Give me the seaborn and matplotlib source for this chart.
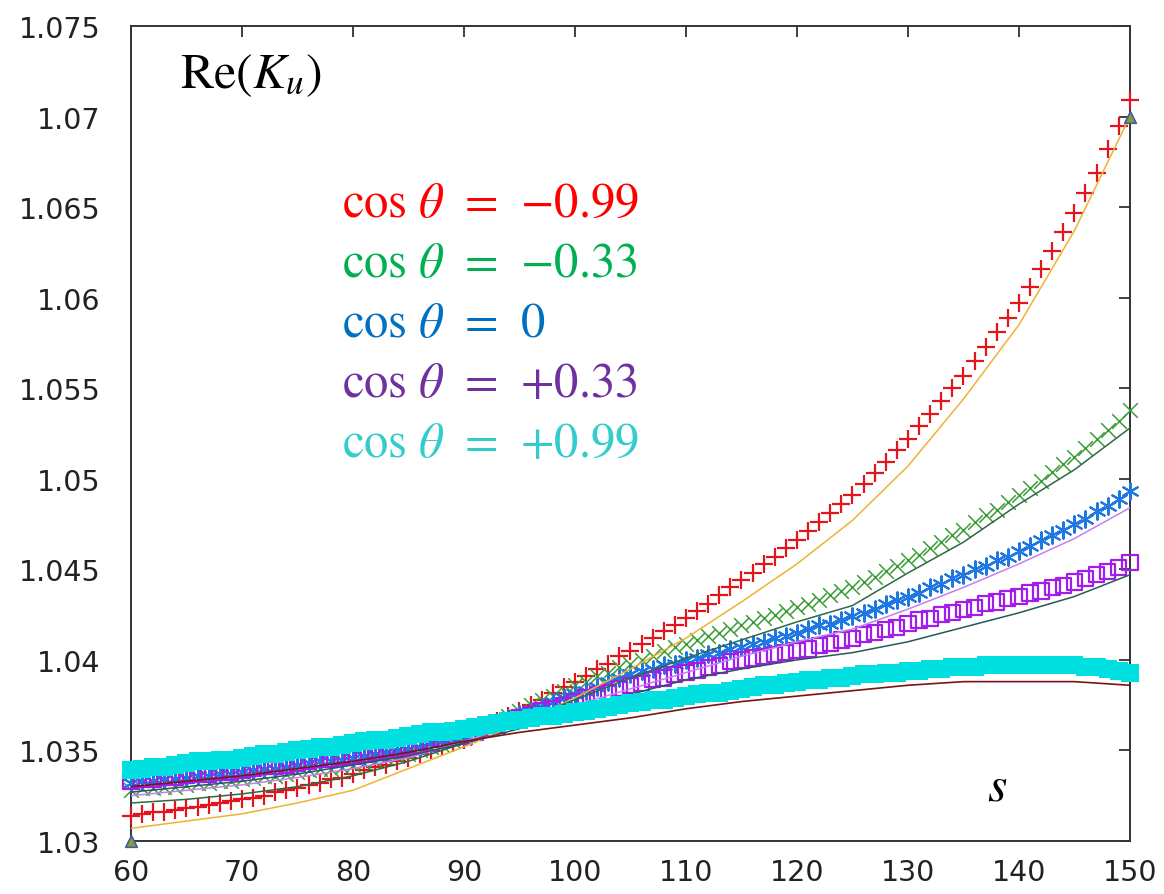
import matplotlib
matplotlib.use("Agg")
import matplotlib.pyplot as plt
import seaborn as sns

# ---------------- data ----------------
S = list(range(60, 151))          # s values of the marker series (step 1)
S_LINE = list(range(60, 151, 5))  # s values of the thin curves

RED_PLUS = [1.0314, 1.0315, 1.0316, 1.0316, 1.0317,
            1.0318, 1.0319, 1.0320, 1.0321, 1.0322,
            1.0323, 1.0324, 1.0325, 1.0327, 1.0328,
            1.0329, 1.0331, 1.0332, 1.0334, 1.0335,
            1.0337, 1.0339, 1.0341, 1.0342, 1.0344,
            1.0346, 1.0348, 1.0350, 1.0352, 1.0354,
            1.0356, 1.0359, 1.0362, 1.0366, 1.0369,
            1.0372, 1.0375, 1.0378, 1.0382, 1.0385,
            1.0388, 1.0391, 1.0395, 1.0398, 1.0402,
            1.0405, 1.0409, 1.0412, 1.0416, 1.0419,
            1.0423, 1.0427, 1.0431, 1.0436, 1.0440,
            1.0444, 1.0448, 1.0453, 1.0457, 1.0462,
            1.0466, 1.0471, 1.0476, 1.0481, 1.0486,
            1.0491, 1.0497, 1.0503, 1.0509, 1.0516,
            1.0522, 1.0529, 1.0536, 1.0543, 1.0550,
            1.0557, 1.0565, 1.0573, 1.0581, 1.0589,
            1.0597, 1.0606, 1.0616, 1.0626, 1.0636,
            1.0647, 1.0658, 1.0669, 1.0682, 1.0695,
            1.0709]

GREEN_X = [1.0328, 1.0329, 1.0329, 1.0330, 1.0330,
           1.0331, 1.0332, 1.0332, 1.0333, 1.0333,
           1.0334, 1.0335, 1.0336, 1.0336, 1.0337,
           1.0338, 1.0339, 1.0340, 1.0340, 1.0341,
           1.0342, 1.0343, 1.0344, 1.0346, 1.0347,
           1.0348, 1.0350, 1.0352, 1.0353, 1.0355,
           1.0357, 1.0360, 1.0363, 1.0366, 1.0369,
           1.0372, 1.0375, 1.0378, 1.0380, 1.0383,
           1.0386, 1.0388, 1.0391, 1.0393, 1.0396,
           1.0398, 1.0400, 1.0402, 1.0405, 1.0407,
           1.0409, 1.0411, 1.0413, 1.0415, 1.0417,
           1.0419, 1.0421, 1.0423, 1.0425, 1.0427,
           1.0429, 1.0431, 1.0433, 1.0436, 1.0438,
           1.0440, 1.0443, 1.0446, 1.0449, 1.0452,
           1.0455, 1.0458, 1.0462, 1.0465, 1.0469,
           1.0472, 1.0476, 1.0480, 1.0483, 1.0487,
           1.0491, 1.0495, 1.0499, 1.0504, 1.0508,
           1.0512, 1.0517, 1.0522, 1.0527, 1.0532,
           1.0538]

BLUE_STAR = [1.0332, 1.0333, 1.0333, 1.0334, 1.0334,
             1.0335, 1.0336, 1.0336, 1.0337, 1.0337,
             1.0338, 1.0339, 1.0340, 1.0340, 1.0341,
             1.0342, 1.0343, 1.0344, 1.0344, 1.0345,
             1.0346, 1.0347, 1.0348, 1.0349, 1.0350,
             1.0351, 1.0352, 1.0354, 1.0355, 1.0357,
             1.0358, 1.0360, 1.0363, 1.0365, 1.0368,
             1.0370, 1.0372, 1.0374, 1.0377, 1.0379,
             1.0381, 1.0383, 1.0385, 1.0388, 1.0390,
             1.0392, 1.0394, 1.0395, 1.0397, 1.0398,
             1.0400, 1.0401, 1.0403, 1.0404, 1.0406,
             1.0407, 1.0409, 1.0410, 1.0412, 1.0413,
             1.0415, 1.0417, 1.0419, 1.0420, 1.0422,
             1.0424, 1.0426, 1.0428, 1.0431, 1.0433,
             1.0435, 1.0437, 1.0440, 1.0442, 1.0445,
             1.0447, 1.0450, 1.0452, 1.0455, 1.0457,
             1.0460, 1.0463, 1.0466, 1.0469, 1.0472,
             1.0475, 1.0478, 1.0482, 1.0485, 1.0489,
             1.0493]

PURPLE_SQ = [1.0333, 1.0334, 1.0334, 1.0335, 1.0335,
             1.0336, 1.0337, 1.0337, 1.0338, 1.0338,
             1.0339, 1.0340, 1.0341, 1.0341, 1.0342,
             1.0343, 1.0344, 1.0345, 1.0345, 1.0346,
             1.0347, 1.0348, 1.0349, 1.0350, 1.0351,
             1.0352, 1.0353, 1.0354, 1.0356, 1.0357,
             1.0358, 1.0360, 1.0362, 1.0364, 1.0366,
             1.0368, 1.0370, 1.0372, 1.0373, 1.0375,
             1.0377, 1.0379, 1.0381, 1.0382, 1.0384,
             1.0386, 1.0387, 1.0389, 1.0390, 1.0392,
             1.0393, 1.0394, 1.0396, 1.0397, 1.0399,
             1.0400, 1.0401, 1.0402, 1.0403, 1.0404,
             1.0405, 1.0406, 1.0408, 1.0409, 1.0411,
             1.0412, 1.0414, 1.0415, 1.0417, 1.0418,
             1.0420, 1.0422, 1.0423, 1.0425, 1.0426,
             1.0428, 1.0429, 1.0431, 1.0432, 1.0434,
             1.0435, 1.0437, 1.0438, 1.0440, 1.0441,
             1.0443, 1.0445, 1.0447, 1.0449, 1.0451,
             1.0454]

CYAN_SQ = [1.0339, 1.0340, 1.0341, 1.0341, 1.0342,
           1.0343, 1.0344, 1.0344, 1.0345, 1.0345,
           1.0346, 1.0347, 1.0348, 1.0348, 1.0349,
           1.0350, 1.0351, 1.0352, 1.0352, 1.0353,
           1.0354, 1.0355, 1.0356, 1.0356, 1.0357,
           1.0358, 1.0359, 1.0360, 1.0360, 1.0361,
           1.0362, 1.0363, 1.0364, 1.0365, 1.0366,
           1.0367, 1.0368, 1.0369, 1.0369, 1.0370,
           1.0371, 1.0372, 1.0373, 1.0374, 1.0375,
           1.0376, 1.0377, 1.0378, 1.0378, 1.0379,
           1.0380, 1.0381, 1.0382, 1.0382, 1.0383,
           1.0384, 1.0385, 1.0386, 1.0386, 1.0387,
           1.0388, 1.0389, 1.0389, 1.0390, 1.0390,
           1.0391, 1.0392, 1.0392, 1.0393, 1.0393,
           1.0394, 1.0394, 1.0395, 1.0395, 1.0396,
           1.0396, 1.0396, 1.0397, 1.0397, 1.0397,
           1.0397, 1.0397, 1.0397, 1.0397, 1.0397,
           1.0397, 1.0396, 1.0396, 1.0395, 1.0394,
           1.0393]

YELLOW_LINE = [1.0307, 1.0311, 1.0315, 1.0321, 1.0328, 1.0340, 1.0352, 1.0365,
               1.0379, 1.0395, 1.0412, 1.0432, 1.0453, 1.0477, 1.0507, 1.0544,
               1.0585, 1.0637, 1.0700]
DKGREEN_LINE = [1.0321, 1.0323, 1.0326, 1.0330, 1.0336, 1.0344, 1.0354, 1.0366,
                1.0378, 1.0390, 1.0401, 1.0411, 1.0421, 1.0430, 1.0448, 1.0465,
                1.0486, 1.0505, 1.0528]
VIOLET_LINE = [1.0325, 1.0328, 1.0331, 1.0335, 1.0340, 1.0346, 1.0355, 1.0365,
               1.0375, 1.0384, 1.0393, 1.0402, 1.0410, 1.0417, 1.0428, 1.0440,
               1.0453, 1.0467, 1.0484]
SLATE_LINE = [1.0327, 1.0330, 1.0333, 1.0337, 1.0342, 1.0347, 1.0354, 1.0362,
              1.0371, 1.0381, 1.0389, 1.0395, 1.0400, 1.0404, 1.0410, 1.0418,
              1.0426, 1.0435, 1.0447]
MAROON_LINE = [1.0330, 1.0333, 1.0336, 1.0340, 1.0344, 1.0349, 1.0355, 1.0360,
               1.0364, 1.0368, 1.0373, 1.0377, 1.0380, 1.0383, 1.0386, 1.0388,
               1.0388, 1.0388, 1.0386]

TRI_S = [60, 150]
TRI_V = [1.030, 1.070]

XTICKS = [60, 70, 80, 90, 100, 110, 120, 130, 140, 150]
YTICKS = [1.03, 1.035, 1.04, 1.045, 1.05, 1.055, 1.06, 1.065, 1.07, 1.075]
YTICK_LABELS = ["1.03", "1.035", "1.04", "1.045", "1.05", "1.055",
                "1.06", "1.065", "1.07", "1.075"]

LEGEND_TEXT = ["{-}0.99", "{-}0.33", "0", "{+}0.33", "{+}0.99"]
LEGEND_COLORS = ["#ff0000", "#00b050", "#0070c0", "#7030a0", "#33cccc"]

# ---------------- style ----------------
sns.set_style("white")
plt.rcParams["font.family"] = ["DejaVu Sans"]
plt.rcParams["mathtext.fontset"] = "stix"

fig = plt.figure(figsize=(11.64, 8.95), dpi=100)
ax = fig.add_axes([0.1125, 0.0592, 0.8582, 0.9106])


def pts(x, y, **kw):
    sns.scatterplot(x=x, y=y, ax=ax, legend=False, clip_on=False, **kw)


def curve(x, y, **kw):
    sns.lineplot(x=x, y=y, ax=ax, legend=False, estimator=None, sort=False, **kw)


pts(S, RED_PLUS, marker="+", s=150, color="#e3141b", linewidth=1.6, zorder=3)
curve(S_LINE, YELLOW_LINE, color="#f0b232", linewidth=1.1, zorder=4)
pts(S, GREEN_X, marker="x", s=110, color="#3a9d35", linewidth=1.1, zorder=3)
curve(S_LINE, DKGREEN_LINE, color="#2b6a45", linewidth=1.1, zorder=4)
pts(S, BLUE_STAR, marker=(6, 2, 0), s=140, color="#1d78e2", linewidth=1.5, zorder=3)
curve(S_LINE, VIOLET_LINE, color="#c47ff0", linewidth=1.1, zorder=4)
pts(S, PURPLE_SQ, marker="s", s=120, color="#a21de8", facecolor="none",
    edgecolor="#a21de8", linewidth=1.6, zorder=3)
curve(S_LINE, SLATE_LINE, color="#27585a", linewidth=1.1, zorder=4)
pts(S, CYAN_SQ, marker="s", s=170, color="#00e0e0", edgecolor="#00e0e0",
    linewidth=0, zorder=5)
curve(S_LINE, MAROON_LINE, color="#7a1414", linewidth=1.2, zorder=6)
pts(TRI_S, TRI_V, marker="^", s=70, color="#8c9a3c", edgecolor="#3f5fa0",
    linewidth=1.2, zorder=7)

ax.set_xlim(60, 150)
ax.set_ylim(1.03, 1.075)
ax.set_xticks(XTICKS)
ax.set_yticks(YTICKS)
ax.set_yticklabels(YTICK_LABELS)
ax.set_xlabel("")
ax.set_ylabel("")

ax.tick_params(direction="in", length=8, width=1.3, top=True, right=True,
               labelsize=20.5, color="#333333", labelcolor="#222222")
ax.tick_params(axis="y", pad=22)
ax.tick_params(axis="x", pad=12)
for sp in ax.spines.values():
    sp.set_color("#333333")
    sp.set_linewidth(1.4)

ax.text(0.049, 0.941, r"$\mathrm{Re}(K_u)$", transform=ax.transAxes,
        fontsize=36, ha="left", va="center", color="black")

baselines = [0.767, 0.693, 0.620, 0.546, 0.472]
for txt, col, yb in zip(LEGEND_TEXT, LEGEND_COLORS, baselines):
    ax.text(0.211, yb, r"$\cos\,\theta\;\,=\;\,%s$" % txt,
            transform=ax.transAxes, fontsize=35, ha="left", va="baseline", color=col)

ax.text(0.867, 0.0515, r"$s$", transform=ax.transAxes, fontsize=36,
        ha="center", va="baseline", color="black")

fig.savefig("out.png", dpi=100)
